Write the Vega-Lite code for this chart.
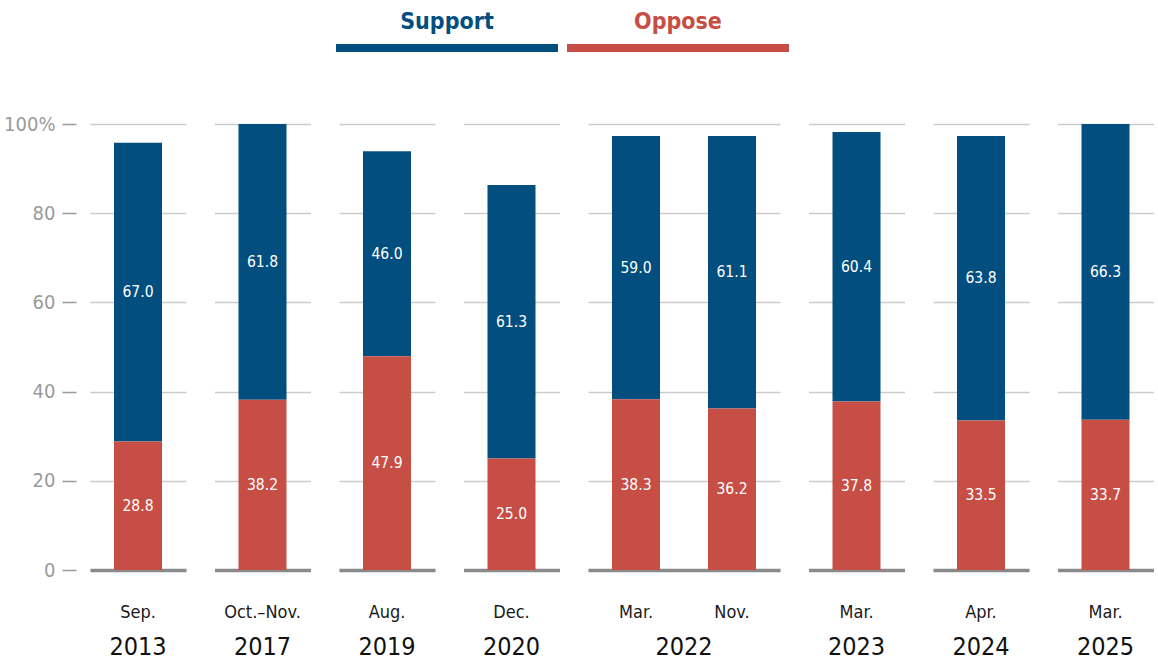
{
  "$schema": "https://vega.github.io/schema/vega-lite/v6.json",
  "padding": {"left": 3, "top": 11, "right": 0, "bottom": 0},
  "background": "white",
  "config": {
    "view": {"stroke": null},
    "font": "DejaVu Sans Condensed, sans-serif",
    "scale": {"bandPaddingInner": 0.5, "bandPaddingOuter": 0.25},
    "axis": {"domain": false, "ticks": false, "grid": false, "title": null,
      "labelFont": "DejaVu Sans Condensed, sans-serif"},
    "axisY": {"grid": true, "gridColor": "#000", "gridOpacity": 0.2, "gridWidth": 1.5, "zindex": 1,
      "labelColor": "#9a9a9a", "labelFontSize": 20, "tickColor": "#9a9a9a", "tickWidth": 1.5, "labelPadding": 7},
    "axisX": {"domain": true, "domainColor": "#8a8a8a", "domainWidth": 3.5, "zindex": 1,
      "labelFontSize": 18, "labelColor": "#1a1a1a", "labelPadding": 33, "labelAngle": 0},
    "title": {"orient": "bottom", "fontSize": 25, "fontWeight": "normal", "color": "#111", "offset": 14,
      "anchor": "middle", "font": "DejaVu Sans Condensed, sans-serif"},
    "concat": {"spacing": 28.5}
  },
  "datasets": {
    "polls": [
      {"year": "2013", "month": "Sep.", "series": "Support", "pct": 67.0},
      {"year": "2013", "month": "Sep.", "series": "Oppose", "pct": 28.8},
      {"year": "2017", "month": "Oct.–Nov.", "series": "Support", "pct": 61.8},
      {"year": "2017", "month": "Oct.–Nov.", "series": "Oppose", "pct": 38.2},
      {"year": "2019", "month": "Aug.", "series": "Support", "pct": 46.0},
      {"year": "2019", "month": "Aug.", "series": "Oppose", "pct": 47.9},
      {"year": "2020", "month": "Dec.", "series": "Support", "pct": 61.3},
      {"year": "2020", "month": "Dec.", "series": "Oppose", "pct": 25.0},
      {"year": "2022", "month": "Mar.", "series": "Support", "pct": 59.0},
      {"year": "2022", "month": "Mar.", "series": "Oppose", "pct": 38.3},
      {"year": "2022", "month": "Nov.", "series": "Support", "pct": 61.1},
      {"year": "2022", "month": "Nov.", "series": "Oppose", "pct": 36.2},
      {"year": "2023", "month": "Mar.", "series": "Support", "pct": 60.4},
      {"year": "2023", "month": "Mar.", "series": "Oppose", "pct": 37.8},
      {"year": "2024", "month": "Apr.", "series": "Support", "pct": 63.8},
      {"year": "2024", "month": "Apr.", "series": "Oppose", "pct": 33.5},
      {"year": "2025", "month": "Mar.", "series": "Support", "pct": 66.3},
      {"year": "2025", "month": "Mar.", "series": "Oppose", "pct": 33.7}
    ],
    "legend": [{"series": "Support"}, {"series": "Oppose"}]
  },
  "spacing": 62,
  "vconcat": [
    {
      "data": {"name": "legend"},
      "width": 784,
      "height": 8,
      "encoding": {
        "x": {"field": "series", "type": "nominal", "sort": null,
          "scale": {"domain": ["Support", "Oppose"], "range": [246, 699], "paddingInner": 0.039, "paddingOuter": 0}, "axis": null},
        "color": {"field": "series", "type": "nominal", "scale": {"domain": ["Support", "Oppose"], "range": ["#024F7F", "#C64E45"]}, "legend": null}
      },
      "layer": [
        {"mark": {"type": "bar"}},
        {"mark": {"type": "text", "fontSize": 23, "fontWeight": "bold", "dy": -26}, "encoding": {"text": {"field": "series"}}}
      ]
    },
    {
      "data": {"name": "polls"},
      "hconcat": [
        {"width": 96, "height": 446, "title": {"text": "2013"},
          "transform": [{"filter": "datum.year == '2013'"}, {"stack": "pct", "groupby": ["year", "month"], "sort": [{"field": "series", "order": "ascending"}], "as": ["v0", "v1"]}],
          "encoding": {"x": {"field": "month", "type": "nominal", "sort": null}},
          "layer": [
            {"mark": "bar", "encoding": {
              "y": {"field": "v0", "type": "quantitative", "scale": {"domain": [0, 100]},
                "axis": {"values": [0, 20, 40, 60, 80, 100], "labelExpr": "datum.value == 100 ? '100%' : datum.label", "offset": 14, "ticks": true, "tickSize": 14}},
              "y2": {"field": "v1"},
              "color": {"field": "series", "type": "nominal", "scale": {"domain": ["Support", "Oppose"], "range": ["#024F7F", "#C64E45"]}, "legend": null}}},
            {"transform": [{"fold": ["v0", "v1"], "as": ["k", "edge"]}, {"aggregate": [{"op": "mean", "field": "edge", "as": "mid"}], "groupby": ["year", "month", "series", "pct"]}],
              "mark": {"type": "text", "color": "white", "fontSize": 15.5},
              "encoding": {"y": {"field": "mid", "type": "quantitative"}, "text": {"field": "pct", "format": ".1f"}}}
          ]},
        {"width": 96, "height": 446, "title": {"text": "2017"},
          "transform": [{"filter": "datum.year == '2017'"}, {"stack": "pct", "groupby": ["year", "month"], "sort": [{"field": "series", "order": "ascending"}], "as": ["v0", "v1"]}],
          "encoding": {"x": {"field": "month", "type": "nominal", "sort": null}},
          "layer": [
            {"mark": "bar", "encoding": {
              "y": {"field": "v0", "type": "quantitative", "scale": {"domain": [0, 100]}, "axis": {"values": [0, 20, 40, 60, 80, 100], "labels": false}},
              "y2": {"field": "v1"},
              "color": {"field": "series", "type": "nominal", "scale": {"domain": ["Support", "Oppose"], "range": ["#024F7F", "#C64E45"]}, "legend": null}}},
            {"transform": [{"fold": ["v0", "v1"], "as": ["k", "edge"]}, {"aggregate": [{"op": "mean", "field": "edge", "as": "mid"}], "groupby": ["year", "month", "series", "pct"]}],
              "mark": {"type": "text", "color": "white", "fontSize": 15.5},
              "encoding": {"y": {"field": "mid", "type": "quantitative"}, "text": {"field": "pct", "format": ".1f"}}}
          ]},
        {"width": 96, "height": 446, "title": {"text": "2019"},
          "transform": [{"filter": "datum.year == '2019'"}, {"stack": "pct", "groupby": ["year", "month"], "sort": [{"field": "series", "order": "ascending"}], "as": ["v0", "v1"]}],
          "encoding": {"x": {"field": "month", "type": "nominal", "sort": null}},
          "layer": [
            {"mark": "bar", "encoding": {
              "y": {"field": "v0", "type": "quantitative", "scale": {"domain": [0, 100]}, "axis": {"values": [0, 20, 40, 60, 80, 100], "labels": false}},
              "y2": {"field": "v1"},
              "color": {"field": "series", "type": "nominal", "scale": {"domain": ["Support", "Oppose"], "range": ["#024F7F", "#C64E45"]}, "legend": null}}},
            {"transform": [{"fold": ["v0", "v1"], "as": ["k", "edge"]}, {"aggregate": [{"op": "mean", "field": "edge", "as": "mid"}], "groupby": ["year", "month", "series", "pct"]}],
              "mark": {"type": "text", "color": "white", "fontSize": 15.5},
              "encoding": {"y": {"field": "mid", "type": "quantitative"}, "text": {"field": "pct", "format": ".1f"}}}
          ]},
        {"width": 96, "height": 446, "title": {"text": "2020"},
          "transform": [{"filter": "datum.year == '2020'"}, {"stack": "pct", "groupby": ["year", "month"], "sort": [{"field": "series", "order": "ascending"}], "as": ["v0", "v1"]}],
          "encoding": {"x": {"field": "month", "type": "nominal", "sort": null}},
          "layer": [
            {"mark": "bar", "encoding": {
              "y": {"field": "v0", "type": "quantitative", "scale": {"domain": [0, 100]}, "axis": {"values": [0, 20, 40, 60, 80, 100], "labels": false}},
              "y2": {"field": "v1"},
              "color": {"field": "series", "type": "nominal", "scale": {"domain": ["Support", "Oppose"], "range": ["#024F7F", "#C64E45"]}, "legend": null}}},
            {"transform": [{"fold": ["v0", "v1"], "as": ["k", "edge"]}, {"aggregate": [{"op": "mean", "field": "edge", "as": "mid"}], "groupby": ["year", "month", "series", "pct"]}],
              "mark": {"type": "text", "color": "white", "fontSize": 15.5},
              "encoding": {"y": {"field": "mid", "type": "quantitative"}, "text": {"field": "pct", "format": ".1f"}}}
          ]},
        {"width": 192, "height": 446, "title": {"text": "2022"},
          "transform": [{"filter": "datum.year == '2022'"}, {"stack": "pct", "groupby": ["year", "month"], "sort": [{"field": "series", "order": "ascending"}], "as": ["v0", "v1"]}],
          "encoding": {"x": {"field": "month", "type": "nominal", "sort": null, "scale": {"domain": ["Mar.", "Nov."]}}},
          "layer": [
            {"mark": "bar", "encoding": {
              "y": {"field": "v0", "type": "quantitative", "scale": {"domain": [0, 100]}, "axis": {"values": [0, 20, 40, 60, 80, 100], "labels": false}},
              "y2": {"field": "v1"},
              "color": {"field": "series", "type": "nominal", "scale": {"domain": ["Support", "Oppose"], "range": ["#024F7F", "#C64E45"]}, "legend": null}}},
            {"transform": [{"fold": ["v0", "v1"], "as": ["k", "edge"]}, {"aggregate": [{"op": "mean", "field": "edge", "as": "mid"}], "groupby": ["year", "month", "series", "pct"]}],
              "mark": {"type": "text", "color": "white", "fontSize": 15.5},
              "encoding": {"y": {"field": "mid", "type": "quantitative"}, "text": {"field": "pct", "format": ".1f"}}}
          ]},
        {"width": 96, "height": 446, "title": {"text": "2023"},
          "transform": [{"filter": "datum.year == '2023'"}, {"stack": "pct", "groupby": ["year", "month"], "sort": [{"field": "series", "order": "ascending"}], "as": ["v0", "v1"]}],
          "encoding": {"x": {"field": "month", "type": "nominal", "sort": null}},
          "layer": [
            {"mark": "bar", "encoding": {
              "y": {"field": "v0", "type": "quantitative", "scale": {"domain": [0, 100]}, "axis": {"values": [0, 20, 40, 60, 80, 100], "labels": false}},
              "y2": {"field": "v1"},
              "color": {"field": "series", "type": "nominal", "scale": {"domain": ["Support", "Oppose"], "range": ["#024F7F", "#C64E45"]}, "legend": null}}},
            {"transform": [{"fold": ["v0", "v1"], "as": ["k", "edge"]}, {"aggregate": [{"op": "mean", "field": "edge", "as": "mid"}], "groupby": ["year", "month", "series", "pct"]}],
              "mark": {"type": "text", "color": "white", "fontSize": 15.5},
              "encoding": {"y": {"field": "mid", "type": "quantitative"}, "text": {"field": "pct", "format": ".1f"}}}
          ]},
        {"width": 96, "height": 446, "title": {"text": "2024"},
          "transform": [{"filter": "datum.year == '2024'"}, {"stack": "pct", "groupby": ["year", "month"], "sort": [{"field": "series", "order": "ascending"}], "as": ["v0", "v1"]}],
          "encoding": {"x": {"field": "month", "type": "nominal", "sort": null}},
          "layer": [
            {"mark": "bar", "encoding": {
              "y": {"field": "v0", "type": "quantitative", "scale": {"domain": [0, 100]}, "axis": {"values": [0, 20, 40, 60, 80, 100], "labels": false}},
              "y2": {"field": "v1"},
              "color": {"field": "series", "type": "nominal", "scale": {"domain": ["Support", "Oppose"], "range": ["#024F7F", "#C64E45"]}, "legend": null}}},
            {"transform": [{"fold": ["v0", "v1"], "as": ["k", "edge"]}, {"aggregate": [{"op": "mean", "field": "edge", "as": "mid"}], "groupby": ["year", "month", "series", "pct"]}],
              "mark": {"type": "text", "color": "white", "fontSize": 15.5},
              "encoding": {"y": {"field": "mid", "type": "quantitative"}, "text": {"field": "pct", "format": ".1f"}}}
          ]},
        {"width": 96, "height": 446, "title": {"text": "2025"},
          "transform": [{"filter": "datum.year == '2025'"}, {"stack": "pct", "groupby": ["year", "month"], "sort": [{"field": "series", "order": "ascending"}], "as": ["v0", "v1"]}],
          "encoding": {"x": {"field": "month", "type": "nominal", "sort": null}},
          "layer": [
            {"mark": "bar", "encoding": {
              "y": {"field": "v0", "type": "quantitative", "scale": {"domain": [0, 100]}, "axis": {"values": [0, 20, 40, 60, 80, 100], "labels": false}},
              "y2": {"field": "v1"},
              "color": {"field": "series", "type": "nominal", "scale": {"domain": ["Support", "Oppose"], "range": ["#024F7F", "#C64E45"]}, "legend": null}}},
            {"transform": [{"fold": ["v0", "v1"], "as": ["k", "edge"]}, {"aggregate": [{"op": "mean", "field": "edge", "as": "mid"}], "groupby": ["year", "month", "series", "pct"]}],
              "mark": {"type": "text", "color": "white", "fontSize": 15.5},
              "encoding": {"y": {"field": "mid", "type": "quantitative"}, "text": {"field": "pct", "format": ".1f"}}}
          ]}
      ]
    }
  ]
}
